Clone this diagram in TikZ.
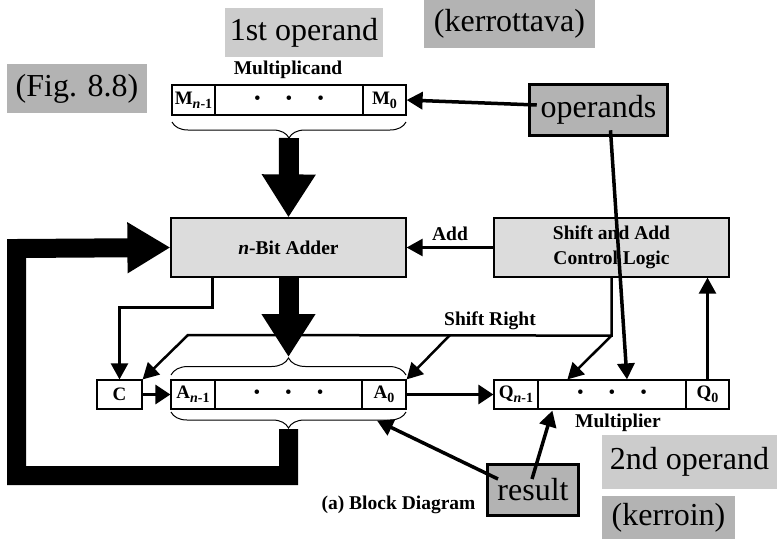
\documentclass[tikz,border=0pt]{standalone}
\usepackage{fontspec}
\setmainfont{Liberation Serif}
\usetikzlibrary{arrows.meta,decorations.pathreplacing,calc}
\definecolor{lgray}{HTML}{CCCCCC}
\definecolor{mgray}{HTML}{B3B3B3}
\definecolor{bgray}{HTML}{DCDCDC}
\newcommand{\regdots}{\textbullet\hspace{25pt}\textbullet\hspace{25pt}\textbullet}
\newcommand{\regsub}[1]{\raisebox{-0.22em}{\fontsize{14}{14}\selectfont #1}}
\begin{document}
\begin{tikzpicture}[x=1pt,y=-1pt,
  tag/.style={inner sep=0pt, font=\fontsize{32}{36}\selectfont},
  tagbox/.style={tag, draw=black, line width=3.5pt, fill=mgray},
  cell/.style={draw, line width=1.2pt, minimum height=29pt, inner sep=0pt, font=\bfseries\fontsize{19}{21}\selectfont},
  dotcell/.style={cell, font=\fontsize{19}{21}\selectfont},
  block/.style={draw, line width=1.2pt, fill=bgray, minimum width=235pt, minimum height=59pt, inner sep=0pt, align=center, font=\bfseries\fontsize{19.5}{25}\selectfont},
  lbl/.style={inner sep=0pt, font=\bfseries\fontsize{19.5}{22}\selectfont},
  thinarrow/.style={line width=2.5pt, -{Triangle[width=17pt,length=16pt]}},
  markarrow/.style={line width=3.5pt, -{Triangle[width=17pt,length=16pt]}},
  bigarrow/.style={line width=20pt, -{Triangle[width=51pt,length=43pt]}},
  bracestyle/.style={line width=1pt, decorate}
]
\useasboundingbox (0,0) rectangle (777,539);

% annotation tags
\node[tag, fill=lgray, minimum width=158pt, minimum height=49pt] (first) at (304,32.5) {1st operand};
\node[tag, fill=mgray, minimum width=171pt, minimum height=48pt] (kerrottava) at (509.5,24) {(kerrottava)};
\node[tag, fill=mgray, minimum width=140pt, minimum height=49pt] (fig) at (77,88.5) {(Fig. 8.8)};
\node[tag, fill=lgray, minimum width=175pt, minimum height=54pt] (second) at (689.5,462) {2nd operand};
\node[tag, fill=mgray, minimum width=133pt, minimum height=43pt] (kerroin) at (668.5,517.5) {(kerroin)};

% Multiplicand register
\node[lbl] (mcand) at (288,70) {Multiplicand};
\node[cell, minimum width=43pt, minimum height=30pt] (Mn1) at (193.5,100) {M\regsub{\textit{n}-1}};
\node[dotcell, minimum width=148pt, minimum height=30pt] (Mdots) at (289,100) {\regdots};
\node[cell, minimum width=43pt, minimum height=30pt] (M0) at (384.5,100) {M\regsub{0}};

% blocks
\node[block] (adder) at (288.5,247.5) {\textit{n}-Bit Adder};
\node[block] (control) at (611.5,247.5) {Shift and Add\\Control Logic};

% A register, C
\node[cell, minimum width=45pt] (C) at (119.5,394.5) {C};
\node[cell, minimum width=44pt] (An1) at (193,394.5) {A\regsub{\textit{n}-1}};
\node[dotcell, minimum width=147pt] (Adots) at (288.5,394.5) {\regdots};
\node[cell, minimum width=44pt] (A0) at (384,394.5) {A\regsub{0}};

% Q register
\node[cell, minimum width=44pt] (Qn1) at (516,394.5) {Q\regsub{\textit{n}-1}};
\node[dotcell, minimum width=148pt] (Qdots) at (612,394.5) {\regdots};
\node[cell, minimum width=43pt] (Q0) at (707.5,394.5) {Q\regsub{0}};
\node[lbl] (mplier) at (618,423) {Multiplier};

% braces
\draw[bracestyle, decoration={brace, mirror, amplitude=16pt}] (172,122) -- (406,122);
\coordinate (Mtip) at (289,138);
\draw[bracestyle, decoration={brace, amplitude=17pt}] (171,375) -- (406,375);
\coordinate (Atop) at (288.5,357);
\draw[bracestyle, decoration={brace, mirror, amplitude=16pt}] (171,412) -- (406,412);
\coordinate (Abot) at (288.5,429);

% big arrows
\draw[bigarrow] (Mtip) -- (adder.north);
\draw[bigarrow] (adder.south) -- (Atop);
\draw[line width=19pt, line join=miter, -{Triangle[width=48pt,length=43pt]}]
  (Abot) -- (288.5,475.5) -- (16.5,475.5) -- (16.5,248.5) -- (adder.west);

% control arrows
\draw[thinarrow] (control.west) -- node[lbl, above=6pt] {Add} (adder.east);
\coordinate (acs) at ($(adder.south west)+(42,0)$);
\draw[thinarrow] (acs) -- ++(0,30) -| (C.north);
\coordinate (srR) at ($(control.south)+(0,58)$);
\coordinate (srL) at (188,335);
\coordinate (srM) at (450,335);
\draw[thinarrow, line join=miter] (control.south) -- (srR) -- (srL) -- (C.north east);
\draw[thinarrow] (srM) -- (A0.north east);
\draw[thinarrow] (srR) -- ($(Qdots.north west)+(30,0)$);
\node[lbl] (shr) at (490,321) {Shift Right};
\draw[thinarrow] (Q0.north) -- (control.south -| Q0.north);
\draw[line width=3pt, -{Triangle[width=19pt,length=15pt]}] (C.east) -- (An1.west);
\draw[line width=3pt, -{Triangle[width=19pt,length=15pt]}] (A0.east) -- (Qn1.west);

% caption
\node[lbl] (cap) at (398.5,505) {(a) Block Diagram};

% marker boxes
\node[tagbox, minimum width=138pt, minimum height=51pt] (operands) at (598.5,110) {operands};
\node[tagbox, minimum width=91pt, minimum height=51pt] (result) at (533,490) {result};
\draw[markarrow] ($(operands.west)+(9,-5)$) -- (M0.east);
\draw[markarrow] ($(operands.south)+(12,-7)$) -- ($(Qdots.north)+(15,0)$);
\draw[markarrow] ($(result.center)+(-35,-11)$) -- ($(A0.south)+(-7,11)$);
\draw[markarrow] ($(result.center)+(-1,-11)$) -- ($(Qdots.south west)+(15,1)$);
\end{tikzpicture}
\end{document}
